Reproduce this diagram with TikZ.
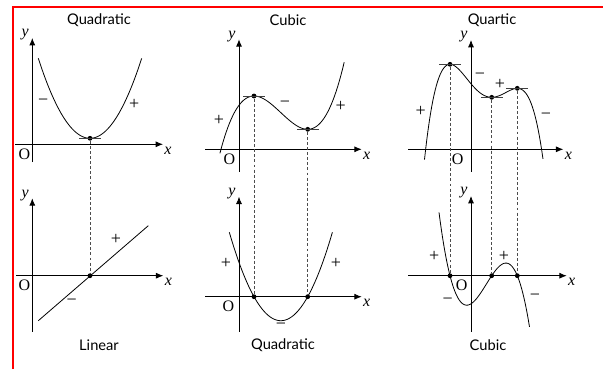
\documentclass[tikz,border=0pt]{standalone}
\usepackage{fontspec}
\setmainfont{Liberation Serif}
\newfontfamily\titlefont{Lato}
\usetikzlibrary{arrows.meta}

\begin{document}
\begin{tikzpicture}[
  x=0.75pt,
  y=-0.75pt,
  font=\fontsize{12}{13}\selectfont,
  axis/.style={line width=0.6pt, -{Latex[length=5.5pt,width=4.5pt]}},
  curve/.style={line width=0.6pt},
  tangent/.style={line width=0.6pt, black!75},
  guide/.style={line width=0.5pt, black!70, dash pattern=on 2.2pt off 1.6pt},
  dot/.style={circle, fill, inner sep=0pt, minimum size=3.6pt},
  lbl/.style={inner sep=0pt},
  sign/.style={inner sep=0pt, font=\fontsize{13.5}{14}\selectfont},
  title/.style={font=\titlefont\fontsize{11}{12}\selectfont}
]

% Frame
\useasboundingbox (0,0) rectangle (603,369);
\fill[white] (0,0) rectangle (603,369);
\draw[red, line width=1.5pt] (12.5,369) -- (12.5,7.3) -- (603,7.3);

% Titles
\node[title] (t-a) at (99,20) {Quadratic};
\node[title] (t-c) at (288,20) {Cubic};
\node[title] (t-e) at (492,20) {Quartic};
\node[title] (t-b) at (99,345) {Linear};
\node[title] (t-d) at (283,345.5) {Quadratic};
\node[title] (t-f) at (488,345.5) {Cubic};

% Axes: name / origin x / origin y / x from / x tip / y from / y tip / O shift
\foreach \p/\ox/\oy/\xa/\xb/\ya/\yb/\os in {
    a/32.3/144.3/15/163/162/38/8,
    b/32.3/275.7/16/163.3/331.7/198.3/8,
    c/239/149.3/205/361.7/171.7/39.3/9.7,
    d/239/296.7/205/361.7/331.7/196.7/10.7,
    e/471/149.3/408.3/563.3/171.7/40/13.3,
    f/471/275.7/408.3/566.7/331.7/196/9.3} {
  \coordinate (\p-xl) at (\xa,\oy);
  \coordinate (\p-xr) at (\xb,\oy);
  \coordinate (\p-yb) at (\ox,\ya);
  \coordinate (\p-yt) at (\ox,\yb);
  \draw[axis] (\p-xl) -- (\p-xr);
  \draw[axis] (\p-yb) -- (\p-yt);
  \node[lbl] (\p-x) at (\xb+5,\oy+6.5) {\textit{x}};
  \node[lbl] (\p-y) at (\ox-7,\yb-3) {\textit{y}};
  \node[lbl] (\p-o) at (\ox-\os,\oy+9.5) {O};
}

% Curves
\draw[curve] plot[domain=-1:1, samples=60] ({90+51.7*\x},{138.3-80*\x*\x});
\draw[curve] (38.3,320.7) -- (148.3,225.7);
\draw[curve] plot[domain=-2.27:2.36, samples=80]
  ({280.85+26.85*\x},{112.65-25*(\x*\x*\x/3-\x)});
\draw[curve] plot[domain=-1.92:1.92, samples=60]
  ({280.85+26.85*\x},{296.7+24*(1-\x*\x)});
\draw[curve] plot[domain=-2.62:2.12, samples=100]
  ({490+25*\x},{97.21+22.96*(\x*\x*\x*\x/4+0.14667*\x*\x*\x-0.89087*\x*\x+0.11881*\x)});
\draw[curve] plot[domain=-2.04:1.58, samples=80]
  ({490+25*\x},{275.7+21.8*(\x+1.6)*(\x-0.068)*(\x-1.092)});

% Turning points and roots
\node[dot] (a-min) at (90,138.3) {};
\node[dot] (b-root) at (90,275.7) {};
\node[dot] (c-max) at (254,96) {};
\node[dot] (c-min) at (307.7,129.3) {};
\node[dot] (d-root1) at (254,296.7) {};
\node[dot] (d-root2) at (307.7,296.7) {};
\node[dot] (e-max1) at (450,64.3) {};
\node[dot] (e-min) at (491.7,97.3) {};
\node[dot] (e-max2) at (517.3,88.3) {};
\node[dot] (f-root1) at (450,275.7) {};
\node[dot] (f-root2) at (491.7,275.7) {};
\node[dot] (f-root3) at (517.3,275.7) {};

% Tangents
\foreach \p in {a-min,c-max,c-min,e-max1,e-min,e-max2} {
  \draw[tangent] ([xshift=-8.2pt]\p.center) -- ([xshift=8.2pt]\p.center);
}

% Guides
\draw[guide] (a-min) -- (b-root);
\draw[guide] (c-max) -- (d-root1);
\draw[guide] (c-min) -- (d-root2);
\draw[guide] (e-max1) -- (f-root1);
\draw[guide] (e-min) -- (f-root2);
\draw[guide] (e-max2) -- (f-root3);

% Signs
\node[sign] (s-a1) at (43.3,102.7) {−};
\node[sign] (s-a2) at (134.3,104.3) {+};
\node[sign] (s-b1) at (116,239.3) {+};
\node[sign] (s-b2) at (71.7,302.3) {−};
\node[sign] (s-c1) at (219,120) {+};
\node[sign] (s-c2) at (285,104) {−};
\node[sign] (s-c3) at (340.7,106) {+};
\node[sign] (s-d1) at (226,263.3) {+};
\node[sign] (s-d2) at (336,263.3) {+};
\node[sign] (s-d3) at (281,326.7) {−};
\node[sign] (s-e1) at (420.7,111) {+};
\node[sign] (s-e2) at (480,76.7) {−};
\node[sign] (s-e3) at (500,84.3) {+};
\node[sign] (s-e4) at (546,116) {−};
\node[sign] (s-f1) at (434.3,256.7) {+};
\node[sign] (s-f2) at (504,256) {+};
\node[sign] (s-f3) at (447.7,301.7) {−};
\node[sign] (s-f4) at (535,297.7) {−};

\end{tikzpicture}
\end{document}
